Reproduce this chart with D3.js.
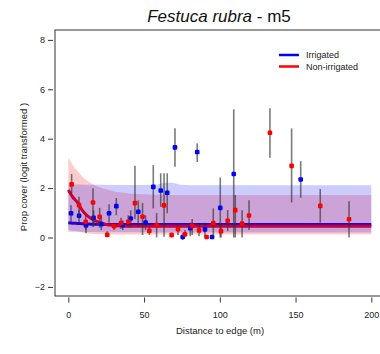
<!DOCTYPE html>
<html>
<head>
<meta charset="utf-8">
<script src="https://cdn.jsdelivr.net/npm/d3@7"></script>
<style>
  body { margin: 0; background: #fff; }
  svg { display: block; font-family: "Liberation Sans", Arial, sans-serif; }
</style>
</head>
<body>
<div id="chart"></div>
<script>
/**********************/
/******* data         */
/**********************/

// observed points: distance, logit cover, error bar low / high
const irrDist = [1.8, 7.1, 11.7, 16.7, 21.8, 26.9, 31.7, 35.9, 41.2, 46.2, 51, 56.1, 61, 65.3, 70.4, 75.5, 80.5, 85.1, 90.2, 94.9, 100.3, 109.2, 153.4];
const irrCover = [0.98, 0.88, 0.49, 0.8, 0.54, 0.98, 1.27, 0.5, 0.77, 1.04, 0.61, 2.05, 1.9, 1.81, 3.65, 0.02, 0.38, 3.46, 0.33, 0.02, 1.2, 2.57, 2.35];
const irrLow = [0.64, 0.6, 0.17, 0.45, 0.3, 0.6, 0.9, 0.3, 0.4, 0.45, 0.3, 1.18, 1.24, 0.98, 2.86, -0.1, 0.05, 3.06, 0.0, -0.05, 0.0, 0.0, 1.61];
const irrHigh = [1.31, 1.1, 0.64, 1.1, 0.8, 1.35, 1.6, 0.7, 1.1, 1.5, 0.9, 2.93, 2.6, 2.6, 4.42, 0.15, 0.6, 3.81, 0.6, 0.1, 2.43, 5.19, 3.09];

const nonDist = [2.2, 7.1, 11.5, 16.3, 20.7, 25.7, 30.2, 34.8, 39.6, 44, 49, 53.5, 58.3, 63.2, 68.2, 72.4, 77, 81.8, 86.3, 91.3, 95.7, 100.8, 105.2, 110.2, 114.7, 119.3, 133.1, 147.4, 166.3, 185.3];
const nonCover = [2.15, 1.31, 0.64, 1.42, 0.84, 0.11, 0.46, 0.58, 0.64, 1.39, 0.84, 0.27, 0.5, 1.3, 0.1, 0.34, 0.13, 0.47, 0.29, 0.02, 0.58, 0.26, 0.68, 1.11, 0.56, 0.89, 4.24, 2.9, 1.28, 0.74];
const nonLow = [1.79, 0.84, 0.3, 0.43, 0.4, 0.0, 0.3, 0.35, 0.4, 0.75, 0.1, 0.1, 0.0, 0.03, 0.0, 0.1, 0.0, 0.1, 0.05, -0.05, 0.0, 0.0, 0.26, 0.0, 0.0, 0.3, 3.23, 1.42, 0.6, 0.0];
const nonHigh = [2.57, 1.65, 0.9, 1.99, 1.2, 0.25, 0.6, 0.8, 0.9, 2.9, 1.4, 0.45, 0.99, 2.6, 0.2, 0.55, 0.3, 0.75, 0.55, 0.1, 1.18, 0.55, 1.11, 1.72, 1.1, 1.51, 5.23, 4.42, 1.96, 1.47];

// fitted curves
const fitDist = [0, 3, 6, 9, 12, 15, 18, 21, 25, 30, 35, 40, 50, 58, 62, 66, 70, 74, 80, 100, 150, 200];
const irrFit = [0.6, 0.58, 0.57, 0.56, 0.55, 0.54, 0.54, 0.53, 0.53, 0.53, 0.53, 0.53, 0.53, 0.53, 0.53, 0.53, 0.53, 0.53, 0.53, 0.53, 0.53, 0.53];
const irrFitHi = [2.15, 2.15, 2.15, 2.14, 2.14, 2.14, 2.14, 2.14, 2.13, 2.13, 2.13, 2.13, 2.13, 2.14, 2.2, 2.22, 2.2, 2.14, 2.12, 2.12, 2.12, 2.12];
const irrFitLo = [0.23, 0.23, 0.23, 0.22, 0.22, 0.22, 0.22, 0.21, 0.21, 0.21, 0.21, 0.21, 0.21, 0.2, 0.2, 0.2, 0.2, 0.2, 0.2, 0.2, 0.2, 0.2];
const nonFit = [1.92, 1.63, 1.42, 1.12, 0.91, 0.77, 0.67, 0.6, 0.53, 0.49, 0.47, 0.46, 0.46, 0.46, 0.46, 0.46, 0.46, 0.46, 0.46, 0.46, 0.46, 0.46];
const nonFitHi = [3.24, 2.93, 2.7, 2.48, 2.32, 2.2, 2.1, 2.02, 1.95, 1.87, 1.82, 1.78, 1.75, 1.73, 1.73, 1.73, 1.72, 1.72, 1.72, 1.72, 1.72, 1.72];
const nonFitLo = [0.3, 0.27, 0.24, 0.2, 0.17, 0.15, 0.14, 0.13, 0.12, 0.12, 0.12, 0.12, 0.12, 0.12, 0.12, 0.12, 0.12, 0.12, 0.12, 0.12, 0.12, 0.12];

const xTicks = [0, 50, 100, 150, 200];
const yTicks = [-2, 0, 2, 4, 6, 8];
const legendLabels = ["Irrigated", "Non-irrigated"];

/**********************/
/******* d3           */
/**********************/

const width = 380, height = 354;
const box = { left: 55, top: 30, right: 386, bottom: 296 };
const blue = "#0000ff", red = "#ff0000";

const svg = d3.select("#chart")
    .append("svg")
    .attr("width", width)
    .attr("height", height);

const x = d3.scaleLinear().domain([0, 200]).range([68.3, 371.3]);
const y = d3.scaleLinear().domain([-2, 8]).range([286.9, 39.9]);

const zip = (xs, ys) => xs.map((d, i) => ({ x: d, y: ys[i] }));

const line = d3.line()
    .x(d => x(d.x))
    .y(d => y(d.y))
    .curve(d3.curveMonotoneX);

const band = d3.area()
    .x(d => x(d.x))
    .y0(d => y(d.lo))
    .y1(d => y(d.hi))
    .curve(d3.curveMonotoneX);

const plot = svg.append("g").attr("class", "plot");

// fitted lines first, ribbons drawn over them (as in the original)
plot.append("path")
    .attr("d", line(zip(fitDist, irrFit)))
    .attr("fill", "none")
    .attr("stroke", blue)
    .attr("stroke-width", 3);

plot.append("path")
    .attr("d", line(zip(fitDist, nonFit)))
    .attr("fill", "none")
    .attr("stroke", red)
    .attr("stroke-width", 3);

plot.append("path")
    .attr("d", band(fitDist.map((d, i) => ({ x: d, lo: nonFitLo[i], hi: nonFitHi[i] }))))
    .attr("fill", red)
    .attr("fill-opacity", 0.2);

plot.append("path")
    .attr("d", band(fitDist.map((d, i) => ({ x: d, lo: irrFitLo[i], hi: irrFitHi[i] }))))
    .attr("fill", blue)
    .attr("fill-opacity", 0.2);

// error bars + points
function drawSeries(dist, cover, lo, hi, color) {
    const g = plot.append("g");
    g.selectAll("line")
        .data(dist)
        .enter()
        .append("line")
        .attr("x1", d => x(d))
        .attr("x2", d => x(d))
        .attr("y1", (d, i) => y(lo[i]))
        .attr("y2", (d, i) => y(hi[i]))
        .attr("stroke", "#333")
        .attr("stroke-opacity", 0.65)
        .attr("stroke-width", 1.6);
    g.selectAll("rect")
        .data(dist)
        .enter()
        .append("rect")
        .attr("x", d => x(d) - 2.3)
        .attr("y", (d, i) => y(cover[i]) - 2.3)
        .attr("width", 4.6)
        .attr("height", 4.6)
        .attr("rx", 1.2)
        .attr("fill", color);
}

drawSeries(irrDist, irrCover, irrLow, irrHigh, blue);
drawSeries(nonDist, nonCover, nonLow, nonHigh, red);

// plot box
svg.append("rect")
    .attr("x", box.left)
    .attr("y", box.top)
    .attr("width", box.right - box.left)
    .attr("height", box.bottom - box.top)
    .attr("fill", "none")
    .attr("stroke", "#333")
    .attr("stroke-width", 1);

// axes
const yAxis = svg.append("g")
    .attr("transform", `translate(${box.left - 2}, 0)`)
    .call(d3.axisLeft(y).tickValues(yTicks).tickSize(5).tickPadding(3));
yAxis.select(".domain").remove();

const xAxis = svg.append("g")
    .attr("transform", `translate(0, ${box.bottom + 1.5})`)
    .call(d3.axisBottom(x).tickValues(xTicks).tickSize(5).tickPadding(9));
xAxis.select(".domain").remove();

svg.selectAll(".tick line").attr("stroke", "#333");
svg.selectAll(".tick text")
    .attr("fill", "#222")
    .style("font-size", "9px")
    .style("font-family", "'Liberation Sans', Arial, sans-serif");

// titles
const title = svg.append("text")
    .attr("x", 219)
    .attr("y", 21.5)
    .attr("text-anchor", "middle")
    .style("font-size", "17px")
    .attr("fill", "#111");
title.append("tspan").style("font-style", "italic").text("Festuca rubra");
title.append("tspan").text(" - m5");

svg.append("text")
    .attr("x", 220)
    .attr("y", 334)
    .attr("text-anchor", "middle")
    .style("font-size", "9.5px")
    .attr("fill", "#222")
    .text("Distance to edge (m)");

svg.append("text")
    .attr("transform", "translate(27, 167) rotate(-90)")
    .attr("text-anchor", "middle")
    .style("font-size", "9.5px")
    .attr("fill", "#222")
    .text("Prop cover (logit transformed )");

// legend
const legend = svg.append("g").attr("class", "legend");
legendLabels.forEach((lab, i) => {
    const ly = 55 + i * 11.5;
    legend.append("line")
        .attr("x1", 279).attr("x2", 299)
        .attr("y1", ly).attr("y2", ly)
        .attr("stroke", i === 0 ? blue : red)
        .attr("stroke-width", 2.5);
    legend.append("text")
        .attr("x", 306)
        .attr("y", ly)
        .attr("dy", "0.35em")
        .style("font-size", "9px")
        .attr("fill", "#222")
        .text(lab);
});
</script>
</body>
</html>
